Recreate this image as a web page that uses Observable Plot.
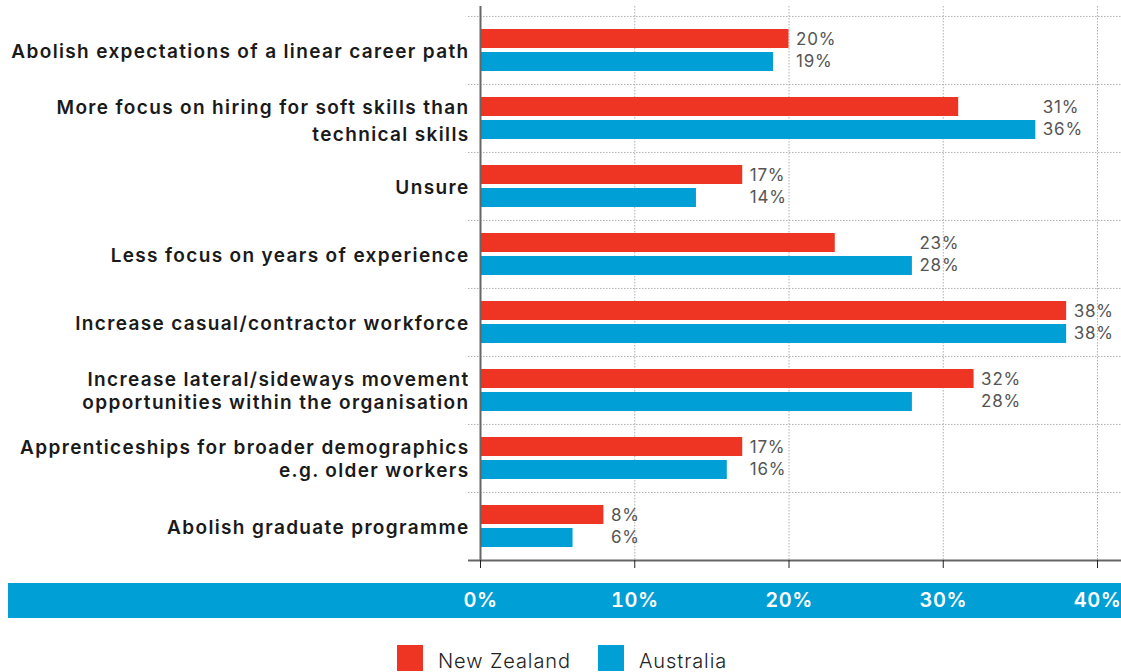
<!DOCTYPE html>
<html>
<head>
<meta charset="utf-8">
<script src="https://cdn.jsdelivr.net/npm/d3@7"></script>
<script src="https://cdn.jsdelivr.net/npm/@observablehq/plot@0.6"></script>
<style>
  html, body { margin: 0; padding: 0; background: #fff; }
  #wrap { position: relative; width: 1121px; height: 672px; overflow: hidden; font-family: Inter, "Noto Sans", sans-serif; }
  #band { position: absolute; left: 8px; top: 583px; width: 1113px; height: 35px; background: #009FD6; }
  #chart { position: absolute; left: 0; top: 0; }
  #legend { position: absolute; top: 645px; left: 0; width: 1121px; height: 27px; }
  .item { position: absolute; top: 0; display: flex; align-items: flex-start; }
  .sw { width: 26px; height: 26px; }
  .lab { margin-left: 15px; font-size: 20px; font-weight: 300; color: #222; line-height: 26px; position: relative; top: 3px; letter-spacing: 0.9px; }
</style>
</head>
<body>
<div id="wrap">
  <div id="band"></div>
  <div id="chart"></div>
  <div id="legend"></div>
</div>
<script>
const categories = [
  "Abolish expectations of a linear career path",
  "More focus on hiring for soft skills than\ntechnical skills",
  "Unsure",
  "Less focus on years of experience",
  "Increase casual/contractor workforce",
  "Increase lateral/sideways movement\nopportunities within the organisation",
  "Apprenticeships for broader demographics\ne.g. older workers",
  "Abolish graduate programme"
];
const newZealand = [20, 31, 17, 23, 38, 32, 17, 8];
const australia  = [19, 36, 14, 28, 38, 28, 16, 6];
const xTicks = [0, 10, 20, 30, 40];
const seriesNames = ["New Zealand", "Australia"];
const seriesColors = ["#EE3524", "#009FD6"];

const data = categories.map((c, i) => ({
  category: c, nz: newZealand[i], au: australia[i], max: Math.max(newZealand[i], australia[i])
}));

const halfBand = 545 / 8 / 2;
const wideSpacing = categories[1];
const labelFont = { textAnchor: "end", fontSize: 19, fontWeight: 600, fill: "#1a1a1a", frameAnchor: "left", dx: 1 };

const chart = Plot.plot({
  width: 1121,
  height: 625,
  marginLeft: 468,
  marginRight: 0,
  marginTop: 6,
  marginBottom: 65,
  style: { fontFamily: "Inter, 'Noto Sans', sans-serif", background: "transparent", overflow: "visible" },
  x: { domain: [0, 40], insetLeft: 12, insetRight: 24, ticks: xTicks },
  y: { domain: categories, padding: 0, insetTop: 9, axis: null },
  marks: [
    // horizontal dotted gridlines at band tops
    Plot.ruleY(data, { y: "category", dy: -halfBand, stroke: "#b0b0b0", strokeDasharray: "1.5,1.5" }),
    // vertical dotted gridlines
    Plot.ruleX(xTicks.slice(1), { stroke: "#b0b0b0", strokeDasharray: "1.5,1.5" }),
    // bars
    Plot.barX(data, { x: "nz", y: "category", fill: seriesColors[0], insetTop: 13, insetBottom: 36 }),
    Plot.barX(data, { x: "au", y: "category", fill: seriesColors[1], insetTop: 36, insetBottom: 13 }),
    // value labels
    Plot.text(data, { x: "max", y: "category", text: d => d.nz + "%", dx: 7, dy: -11, textAnchor: "start", fill: "#555", fontSize: 17, fontWeight: 400 }),
    Plot.text(data, { x: "max", y: "category", text: d => d.au + "%", dx: 7, dy: 11, textAnchor: "start", fill: "#555", fontSize: 17, fontWeight: 400 }),
    // category labels
    Plot.text(data.filter(d => d.category !== wideSpacing), { y: "category", text: "category", lineHeight: 1.2, ...labelFont }),
    Plot.text(data.filter(d => d.category === wideSpacing), { y: "category", text: "category", lineHeight: 1.42, ...labelFont }),
    // vertical axis line
    Plot.ruleX([0], { stroke: "#666", strokeWidth: 2 }),
    // bottom axis line
    Plot.ruleY([0], { y: () => categories[categories.length - 1], dy: halfBand, stroke: "#666", strokeWidth: 2 }),
    // x axis ticks and labels (labels white on blue band)
    Plot.axisX({ ticks: xTicks, tickSize: 8, tickPadding: 24, stroke: "#222", fill: "white", fontSize: 20, fontWeight: 600, tickFormat: d => d + "%", label: null })
  ]
});
document.getElementById("chart").appendChild(chart);

// typographic tweaks (letter spacing) to approximate the original wide typeface
const svg = d3.select(chart);
svg.selectAll('g[aria-label="text"][text-anchor="end"]').style("letter-spacing", "1.35px");
svg.selectAll('g[aria-label="text"][text-anchor="start"]').style("letter-spacing", "0.8px");
svg.selectAll('g[aria-label="x-axis tick label"]').style("letter-spacing", "0.5px");

const legend = document.getElementById("legend");
const lx = [397, 598];
seriesNames.forEach((name, i) => {
  const it = document.createElement("div");
  it.className = "item";
  it.style.left = lx[i] + "px";
  it.innerHTML = `<div class="sw" style="background:${seriesColors[i]}"></div><div class="lab">${name}</div>`;
  legend.appendChild(it);
});
</script>
</body>
</html>
